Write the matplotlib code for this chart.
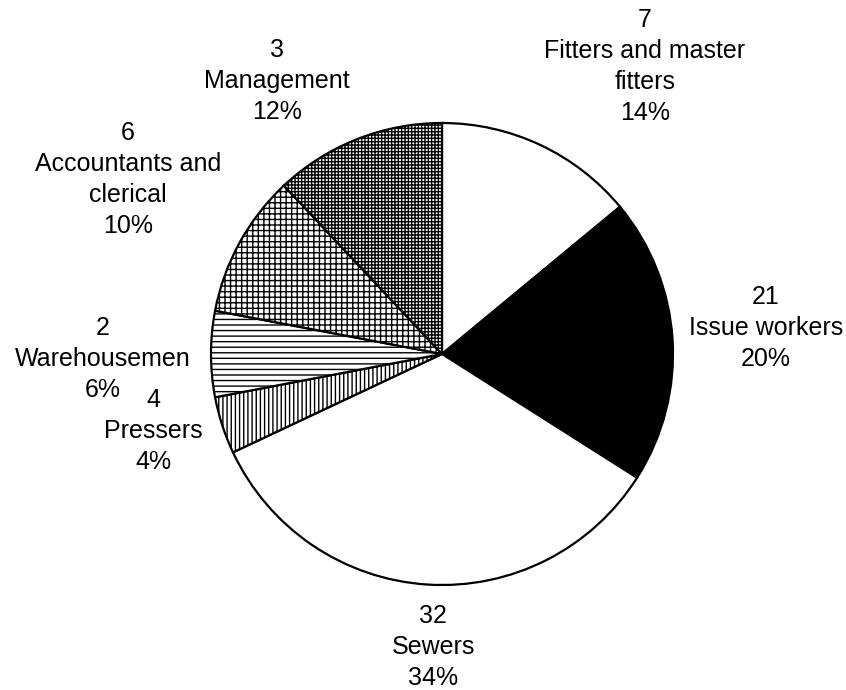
import matplotlib

matplotlib.use("Agg")
import matplotlib.pyplot as plt

# data: clockwise from 12 o'clock
categories = [
    "Fitters and master\nfitters",
    "Issue workers",
    "Sewers",
    "Pressers",
    "Warehousemen",
    "Accountants and\nclerical",
    "Management",
]
counts = [7, 21, 32, 4, 2, 6, 3]
shares = [14, 20, 34, 4, 6, 10, 12]

# styles
face_colors = ["white", "black", "white", "white", "white", "white", "white"]
hatches = [None, None, None, "||||", "---", "+++", "+++++"]

# label positions in pixels: centre x, y of first line (from top)
label_pos = [(645, 20), (766, 297), (433, 616), (153, 400), (103, 328), (128, 133), (277, 50)]
LINE_STEP = 31

W, H = 846, 690
plt.rcParams["font.family"] = ["Liberation Sans", "DejaVu Sans"]
plt.rcParams["hatch.linewidth"] = 1.0

fig = plt.figure(figsize=(W / 100, H / 100), dpi=100)
ax = fig.add_axes([0, 0, 1, 1])

wedges, _ = ax.pie(
    shares,
    colors=face_colors,
    startangle=90,
    counterclock=False,
    center=(442, H - 354),
    radius=231,
    frame=True,
    wedgeprops={"edgecolor": "black", "linewidth": 1.6},
)
for w, h in zip(wedges, hatches):
    if h:
        w.set_hatch(h)

# each label line drawn on its own so neighbouring labels don't collide
for (x, y), name, n, pct in zip(label_pos, categories, counts, shares):
    lines = [str(n)] + name.split("\n") + [f"{pct}%"]
    for i, line in enumerate(lines):
        ax.text(x, H - (y + i * LINE_STEP), line, ha="center", va="center",
                fontsize=18, color="black")

ax.set_xlim(0, W)
ax.set_ylim(0, H)
ax.set_aspect("equal")
ax.axis("off")

fig.savefig("out.png", dpi=100, facecolor="white")
